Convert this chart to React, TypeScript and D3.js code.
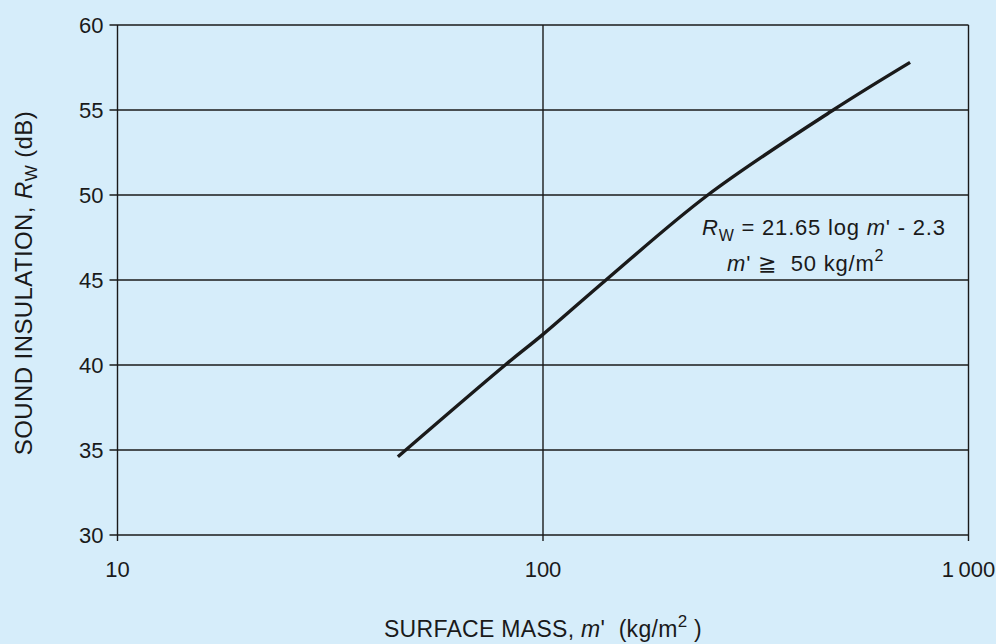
import * as d3 from "d3";
import { useMemo } from "react";

const W = 996;
const H = 644;
const M = { top: 25, right: 27.5, bottom: 109, left: 117.5 };

// surface mass m' (kg/m²) and Rw (dB)
const massValues = [45.6, 81.5, 100, 140.6, 244, 481, 729];
const rwValues = [34.6, 40, 41.8, 45, 50, 55, 57.8];

const xTickValues = [10, 100, 1000];
const xTickLabels = ["10", "100", "1\u2009000"];
const yTickValues = [30, 35, 40, 45, 50, 55, 60];

const BG = "#d6edfa";
const INK = "#1a1a1a";
const FONT = "'Liberation Sans', Arial, sans-serif";

export default function App() {
  const x = useMemo(
    () => d3.scaleLog().domain([10, 1000]).range([M.left, W - M.right]),
    [],
  );
  const y = useMemo(
    () => d3.scaleLinear().domain([30, 60]).range([H - M.bottom, M.top]),
    [],
  );

  const pts = massValues.map((m, i) => ({ m, r: rwValues[i] }));
  const path =
    d3
      .line<{ m: number; r: number }>()
      .x((d) => x(d.m))
      .y((d) => y(d.r))
      .curve(d3.curveCatmullRom.alpha(0.5))(pts) ?? "";

  const x0 = x(10);
  const x1 = x(1000);
  const yTop = y(60);
  const yBot = y(30);

  return (
    <svg
      width={W}
      height={H}
      viewBox={`0 0 ${W} ${H}`}
      style={{ position: "absolute", left: 0, top: 0, background: BG }}
      fontFamily={FONT}
    >
      <rect x={0} y={0} width={W} height={H} fill={BG} />

      {/* horizontal grid + y ticks */}
      {yTickValues.map((t) => (
        <g key={`y${t}`}>
          <line
            x1={x0 - 8}
            x2={x1}
            y1={y(t)}
            y2={y(t)}
            stroke={INK}
            strokeWidth={1.4}
          />
          <text
            x={x0 - 14}
            y={y(t)}
            textAnchor="end"
            dominantBaseline="central"
            fontSize={22}
            fill={INK}
          >
            {t}
          </text>
        </g>
      ))}

      {/* vertical grid + x ticks */}
      {xTickValues.map((t, i) => (
        <g key={`x${t}`}>
          <line
            x1={x(t)}
            x2={x(t)}
            y1={yTop}
            y2={yBot + 6}
            stroke={INK}
            strokeWidth={1.4}
          />
          <text
            x={x(t)}
            y={yBot + 42}
            textAnchor="middle"
            fontSize={22}
            fill={INK}
          >
            {xTickLabels[i]}
          </text>
        </g>
      ))}

      {/* curve */}
      <path d={path} fill="none" stroke={INK} strokeWidth={3.4} />

      {/* annotation */}
      <text x={702} y={235} fontSize={22} letterSpacing={0.8} fill={INK}>
        <tspan fontStyle="italic">R</tspan>
        <tspan fontSize={16} dy={6}>W</tspan>
        <tspan dy={-6}>{"\u00a0= 21.65 log "}</tspan>
        <tspan fontStyle="italic">m</tspan>
        <tspan>' - 2.3</tspan>
      </text>
      <text x={727} y={271} fontSize={22} letterSpacing={0.8} fill={INK}>
        <tspan fontStyle="italic">m</tspan>
        <tspan>{"' ≧\u00a0\u00a050 kg/m"}</tspan>
        <tspan fontSize={16} dy={-10}>2</tspan>
      </text>

      {/* x axis title */}
      <text
        x={(x0 + x1) / 2}
        y={637}
        textAnchor="middle"
        fontSize={23}
        letterSpacing={0.3}
        fill={INK}
      >
        <tspan>SURFACE MASS, </tspan>
        <tspan fontStyle="italic">m</tspan>
        <tspan>{"'\u00a0\u00a0(kg/m"}</tspan>
        <tspan fontSize={17} dy={-10}>2</tspan>
        <tspan dy={10}>{"\u00a0)"}</tspan>
      </text>

      {/* y axis title */}
      <text
        transform={`translate(32, ${(yTop + yBot) / 2 + 3}) rotate(-90)`}
        textAnchor="middle"
        fontSize={24}
        letterSpacing={0.4}
        fill={INK}
      >
        <tspan>SOUND INSULATION, </tspan>
        <tspan fontStyle="italic">R</tspan>
        <tspan fontSize={17} dy={5}>W</tspan>
        <tspan dy={-5}> (dB)</tspan>
      </text>
    </svg>
  );
}
